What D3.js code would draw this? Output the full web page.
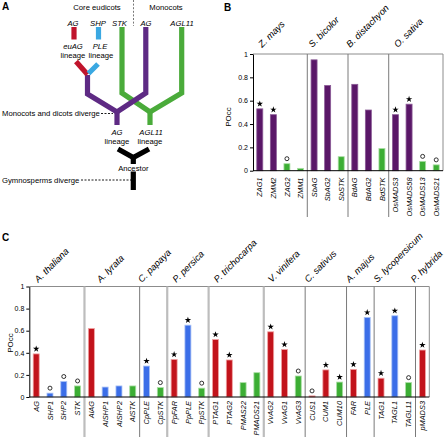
<!DOCTYPE html>
<html><head><meta charset="utf-8">
<script src="https://cdn.jsdelivr.net/npm/d3@7/dist/d3.min.js"></script>
<style>body{margin:0;background:#fff}svg{display:block;font-family:"Liberation Sans",Arial,sans-serif}</style>
</head><body>
<svg id="c" width="446" height="437"></svg>
<script>
// ---------- DATA ----------
const bGroups = ["Z. mays", "S. bicolor", "B. distachyon", "O. sativa"];
const bGroupSizes = [4, 3, 3, 4];
const bGenes = ["ZAG1","ZMM2","ZAG2","ZMM1","SbAG","SbAG2","SbSTK","BdAG","BdAG2","BdSTK","OsMADS3","OsMADS58","OsMADS13","OsMADS21"];
const bValues = [0.53,0.48,0.06,0.02,0.95,0.73,0.12,0.74,0.52,0.19,0.48,0.57,0.08,0.05];
const bLineage = ["AG","AG","STK","STK","AG","AG","STK","AG","AG","STK","AG","AG","STK","STK"];
const bMarks = ["star","star","circle","","","","","","","","star","star","circle","circle"];

const cGroups = ["A. thaliana","A. lyrata","C. papaya","P. persica","P. trichocarpa","V. vinifera","C. sativus","A. majus","S. lycopersicum","P. hybrida"];
const cGroupSizes = [4,4,2,3,4,3,3,2,3,1];
const cGenes = ["AG","SHP1","SHP2","STK","AlAG","AlSHP1","AlSHP2","AlSTK","CpPLE","CpSTK","PpFAR","PpPLE","PpSTK","PTAG1","PTAG2","PMAS22","PMADS21","VvAG2","VvAG1","VvAG3","CUS1","CUM1","CUM10","FAR","PLE","TAG1","TAGL1","TAGL11","pMADS3"];
const cValues = [0.39,0.035,0.14,0.10,0.62,0.09,0.10,0.10,0.28,0.085,0.34,0.65,0.08,0.52,0.335,0.13,0.22,0.59,0.43,0.19,0.01,0.245,0.135,0.25,0.72,0.17,0.735,0.13,0.425];
const cLineage = ["euAG","PLE","PLE","STK","euAG","PLE","PLE","STK","PLE","STK","euAG","PLE","STK","euAG","euAG","STK","STK","euAG","euAG","STK","euAG","euAG","STK","euAG","PLE","euAG","PLE","STK","euAG"];
const cMarks = ["star","circle","circle","circle","","","","","star","circle","star","star","circle","star","star","","","star","star","circle","circle","star","star","star","star","star","star","circle","star"];

const yTicks = [0, 0.2, 0.4, 0.6, 0.8, 1];
const yTickLabels = ["0","0.2","0.4","0.6","0.8","1"];

// ---------- STYLE / LAYOUT ----------
const fill = {AG:"#5a1768", STK:"#3cae34", euAG:"#c2131b", PLE:"#3b6ee8"};
const edge = {AG:"#8a5a96", STK:"#a9dea3", euAG:"#f0a2a2", PLE:"#a9c2f6"};
const cLabelDx = [9,16,2,9,9,8,3,3,3,-1];
const bLabelDx = [9,5,2,9];
const cSepStyle = ["light","dark","light","light","light","dark","dark","dark","dark"];
const tree = {red:"#c0142c", blue:"#3aa8e2", purple:"#5e2a84", green:"#4aab3a", black:"#000"};

const svg = d3.select("#c");

function groupBounds(sizes){ let s=0; return sizes.map(n=>{const r=[s,s+n]; s+=n; return r;}); }

function drawPanel(o){
  const g = svg.append("g");
  const x = d3.scaleBand().domain(o.genes).range([o.x0, o.x1]).padding(0);
  const y = d3.scaleLinear().domain([0,1]).range([o.yb, o.yt]);
  const bounds = groupBounds(o.sizes);
  g.append("line").attr("x1",o.x0).attr("x2",o.x1).attr("y1",y(1)).attr("y2",y(1)).attr("stroke","#8c8c8c").attr("stroke-width",1);
  g.append("line").attr("x1",o.x1).attr("x2",o.x1).attr("y1",y(1)).attr("y2",y(0)).attr("stroke","#8c8c8c").attr("stroke-width",1);
  bounds.slice(1).forEach((b,i)=>{
    const xx = x(o.genes[b[0]]);
    const light = o.sepStyle ? o.sepStyle[i]==="light" : false;
    g.append("line").attr("x1",xx).attr("x2",xx).attr("y1",y(1)).attr("y2",o.sepBottom)
      .attr("stroke", light?"#bdbdbd":"#7a7a7a").attr("stroke-width", light?2.2:1);
  });
  const bw = 6;
  g.selectAll("rect.bar").data(o.genes).join("rect")
    .attr("x", d=>x(d)+x.bandwidth()/2-bw/2)
    .attr("y", (d,i)=>y(o.values[i]))
    .attr("width", bw)
    .attr("height", (d,i)=>y(0)-y(o.values[i]))
    .attr("fill",(d,i)=>fill[o.lineage[i]])
    .attr("stroke",(d,i)=>edge[o.lineage[i]]).attr("stroke-width",0.8);
  o.genes.forEach((d,i)=>{
    const cx = x(d)+x.bandwidth()/2, cy = y(o.values[i]) - 5;
    if(o.marks[i]==="star"){
      g.append("path").attr("d", d3.symbol(d3.symbolStar, 13)()).attr("transform",`translate(${cx},${cy})`).attr("fill","#000");
    } else if(o.marks[i]==="circle"){
      g.append("circle").attr("cx",cx).attr("cy",cy).attr("r",2).attr("fill","none").attr("stroke","#000").attr("stroke-width",0.8);
    }
  });
  const ax = d3.axisLeft(y).tickValues(yTicks).tickFormat((d,i)=>yTickLabels[i]).tickSize(3).tickSizeOuter(0);
  const axg = g.append("g").attr("transform",`translate(${o.x0},0)`).call(ax);
  axg.select(".domain").attr("stroke","#000");
  axg.selectAll(".tick line").attr("stroke","#000");
  axg.selectAll("text").attr("font-size",7).attr("font-family","Liberation Sans, Arial, sans-serif").attr("fill","#000").attr("dx",1);
  g.append("line").attr("x1",o.x0).attr("x2",o.x1).attr("y1",y(0)).attr("y2",y(0)).attr("stroke","#000");
  g.append("text").attr("transform",`translate(${o.titleX},${o.titleY}) rotate(-90)`).attr("text-anchor","middle")
    .attr("font-size",8).text("POcc");
  g.selectAll("text.gene").data(o.genes).join("text").attr("class","gene")
    .attr("transform", d=>`translate(${x(d)+x.bandwidth()/2+2.6},${o.labelTop}) rotate(-90)`)
    .attr("text-anchor","end").attr("font-size",7.4).attr("font-style","italic").text(d=>d);
  bounds.forEach((b,i)=>{
    const gx = x(o.genes[b[0]]) + o.groupDx[i];
    g.append("text").attr("transform",`translate(${gx},${o.groupY}) rotate(-45)`)
      .attr("font-size",9.3).attr("font-style","italic").text(o.groups[i]);
  });
}

drawPanel({genes:bGenes, values:bValues, lineage:bLineage, marks:bMarks, groups:bGroups, sizes:bGroupSizes,
  x0:253, x1:443, yb:170.7, yt:54, sepBottom:217, labelTop:177.5, groupY:48, groupDx:bLabelDx, titleX:231, titleY:117});
drawPanel({genes:cGenes, values:cValues, lineage:cLineage, marks:cMarks, groups:cGroups, sizes:cGroupSizes, sepStyle:cSepStyle,
  x0:29.3, x1:429.3, yb:397, yt:286.5, sepBottom:437, labelTop:401, groupY:283, groupDx:cLabelDx, titleX:13, titleY:343});

[["A",2,10],["B",224,11],["C",2,241]].forEach(([t,xx,yy])=>{
  svg.append("text").attr("x",xx).attr("y",yy).attr("font-size",10).attr("font-weight","bold").text(t);
});

// ---------- PANEL A: tree ----------
const A = svg.append("g");
const line = d3.line();
function seg(pts,color,w){ A.append("path").attr("d",line(pts)).attr("fill","none").attr("stroke",color).attr("stroke-width",w||5.2).attr("stroke-linejoin","miter").attr("stroke-linecap","butt"); }
seg([[122,27],[122,93],[150,112],[181.7,93],[181.7,27]], tree.green);
seg([[150,112],[150,125]], tree.green);
seg([[87.5,75],[87.5,94],[117,112],[145.8,93],[145.8,27]], tree.purple);
seg([[117,112],[117,125]], tree.purple);
seg([[74,27],[74,39.5]], tree.red);
seg([[98.5,27],[98.5,39.5]], tree.blue);
seg([[76,61.5],[87.5,74.5]], tree.red);
seg([[98,64],[88.5,73.5]], tree.blue);
seg([[118,149],[133.3,157.5],[149,149]], tree.black);
seg([[133.3,157],[133.3,164]], tree.black);
seg([[133.3,171.5],[133.3,190]], tree.black);

A.append("line").attr("x1",133.5).attr("x2",133.5).attr("y1",0).attr("y2",26).attr("stroke","#555").attr("stroke-width",0.8).attr("stroke-dasharray","2,1.6");
A.append("line").attr("x1",101).attr("x2",113).attr("y1",113.5).attr("y2",113.5).attr("stroke","#000").attr("stroke-width",0.9).attr("stroke-dasharray","2,1.5");
A.append("line").attr("x1",81).attr("x2",131).attr("y1",180).attr("y2",180).attr("stroke","#000").attr("stroke-width",0.9).attr("stroke-dasharray","2,1.5");

function txt(t,xx,yy,opts){
  opts=opts||{};
  A.append("text").attr("x",xx).attr("y",yy).attr("text-anchor",opts.anchor||"middle")
   .attr("font-size",opts.size||7.7).attr("font-style",opts.italic?"italic":"normal").text(t);
}
txt("Core eudicots",97,10);
txt("Monocots",166,10);
txt("AG",73,25.5,{italic:true});
txt("SHP",98,25.5,{italic:true});
txt("STK",119.5,25.5,{italic:true});
txt("AG",146,25.5,{italic:true});
txt("AGL11",182,25.5,{italic:true});
txt("euAG",73,49,{italic:true});
txt("lineage",73,57.5);
txt("PLE",100,49,{italic:true});
txt("lineage",101,57.5);
txt("Monocots and dicots diverge",2,116,{anchor:"start"});
txt("AG",117,135,{italic:true});
txt("lineage",117,144);
txt("AGL11",151,135,{italic:true});
txt("lineage",150,144);
txt("Ancestor",133.3,170.5);
txt("Gymnosperms diverge",2,182.5,{anchor:"start"});
</script>
</body></html>
